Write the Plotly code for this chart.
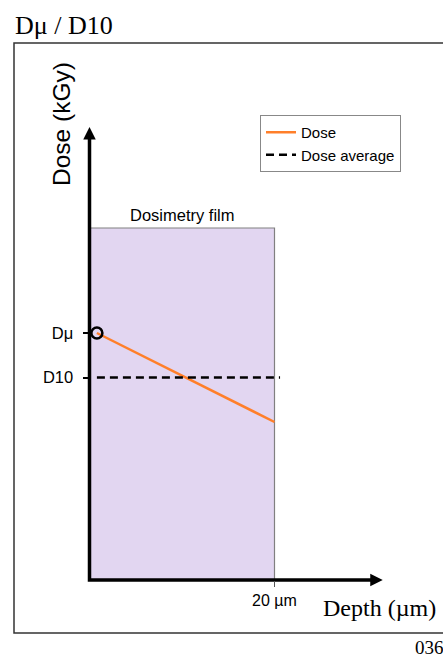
import plotly.graph_objects as go

# ---- data ----
depth = [0.8, 20.0]            # µm, start/end of dose profile
dose = [24.7, 15.8]            # dose along depth (arbitrary units)
dose_average = (dose[0] + dose[1]) / 2
avg_depth = [0.8, 20.6]        # extent of the dashed average line
film_depth = [0.0, 20.0]       # dosimetry film thickness
film_top = 35.2
axis_x_end = 31.7              # tip of depth-axis arrow
axis_y_end = 45.3              # tip of dose-axis arrow
y_tick_vals = [dose[0], dose_average]
y_tick_text = ["Dμ", "D10"]
x_tick_vals = [20]
x_tick_text = ["20 µm"]

SANS = "Liberation Sans, Arial, sans-serif"
SERIF = "Liberation Serif, Times New Roman, serif"

W, H = 443, 659
ML, MR, MT, MB = 14, 0, 43, 26
PW, PH = W - ML - MR, H - MT - MB

# pixel placement of the data frame
x0_px, x_px_per = 89.5, 9.25
y0_px, y_px_per = 580.0, 10.0
xr = [(ML - x0_px) / x_px_per, (W - MR - x0_px) / x_px_per]
yr = [(y0_px - (H - MB)) / y_px_per, (y0_px - MT) / y_px_per]

fig = go.Figure()

# dose profile
fig.add_trace(go.Scatter(x=depth, y=dose, mode="lines", name="Dose",
                         line=dict(color="#FF7F2A", width=2.5)))
# dose average
fig.add_trace(go.Scatter(x=avg_depth, y=[dose_average, dose_average], mode="lines",
                         name="Dose average",
                         line=dict(color="black", width=2.5, dash="8px,5px")))
# Dμ marker
fig.add_trace(go.Scatter(x=[depth[0]], y=[dose[0]], mode="markers", showlegend=False,
                         marker=dict(symbol="circle-open", size=11, color="black",
                                     line=dict(width=2.5, color="black"))))
# axes (L shape)
fig.add_trace(go.Scatter(x=[0, 0, axis_x_end - 0.9], y=[axis_y_end - 0.9, 0, 0],
                         mode="lines", showlegend=False,
                         line=dict(color="black", width=3.5)))
fig.add_trace(go.Scatter(x=[0], y=[axis_y_end], mode="markers", showlegend=False,
                         marker=dict(symbol="arrow-up", size=12.5, color="black",
                                     line=dict(width=0))))
fig.add_trace(go.Scatter(x=[axis_x_end], y=[0], mode="markers", showlegend=False,
                         marker=dict(symbol="arrow-right", size=12.5, color="black",
                                     line=dict(width=0))))

# dosimetry film
fig.add_shape(type="rect", xref="x", yref="y", x0=film_depth[0], x1=film_depth[1],
              y0=0, y1=film_top, fillcolor="rgb(226,214,241)",
              line=dict(color="#808080", width=1.2), layer="below")
fig.add_annotation(x=(film_depth[0] + film_depth[1]) / 2, y=film_top, xref="x", yref="y",
                   text="Dosimetry film", showarrow=False, xanchor="center",
                   yanchor="bottom", yshift=2,
                   font=dict(family=SANS, size=16.5, color="black"))

# outer frame
fig.add_shape(type="rect", xref="paper", yref="paper", x0=0, x1=1.05, y0=0, y1=1,
              line=dict(color="#333333", width=1.5), layer="above")

def px_x(px):
    return (px - ML) / PW

def px_y(py):
    return (H - MB - py) / PH

fig.add_annotation(x=px_x(62), y=px_y(124), xref="paper", yref="paper",
                   text="Dose (kGy)", textangle=-90, showarrow=False,
                   xanchor="center", yanchor="middle",
                   font=dict(family=SANS, size=24.5, color="black"))
fig.add_annotation(x=px_x(321), y=px_y(608), xref="paper", yref="paper",
                   text="Depth (µm)", showarrow=False, xanchor="left", yanchor="middle",
                   font=dict(family=SERIF, size=24, color="black"))
fig.add_annotation(x=px_x(13), y=px_y(25), xref="paper", yref="paper",
                   text="Dμ / D10", showarrow=False, xanchor="left", yanchor="middle",
                   font=dict(family=SERIF, size=26, color="black"))
fig.add_annotation(x=px_x(413), y=px_y(647), xref="paper", yref="paper",
                   text="036", showarrow=False, xanchor="left", yanchor="middle",
                   font=dict(family=SERIF, size=19, color="black"))

fig.update_layout(
    width=W, height=H, autosize=False,
    margin=dict(l=ML, r=MR, t=MT, b=MB),
    paper_bgcolor="white", plot_bgcolor="rgba(0,0,0,0)",
    xaxis=dict(range=xr, showgrid=False, zeroline=False, showline=False,
               anchor="free", position=px_y(y0_px),
               tickvals=x_tick_vals, ticktext=x_tick_text,
               ticks="outside", ticklen=6, tickwidth=1.2, tickcolor="#555555",
               tickfont=dict(family=SANS, size=16, color="black")),
    yaxis=dict(range=yr, showgrid=False, zeroline=False, showline=False,
               anchor="free", position=px_x(x0_px),
               tickvals=y_tick_vals, ticktext=y_tick_text,
               ticks="outside", ticklen=7, tickwidth=2, tickcolor="black",
               ticklabelstandoff=6,
               tickfont=dict(family=SANS, size=16.5, color="black")),
    legend=dict(x=px_x(260), y=px_y(115), xanchor="left", yanchor="top",
                bordercolor="#888888", borderwidth=1, bgcolor="white",
                entrywidth=105, entrywidthmode="pixels",
                font=dict(family=SANS, size=15, color="black")),
)

fig.write_html("out.html", config={"displayModeBar": False},
               post_script="document.body.style.margin='0';")
